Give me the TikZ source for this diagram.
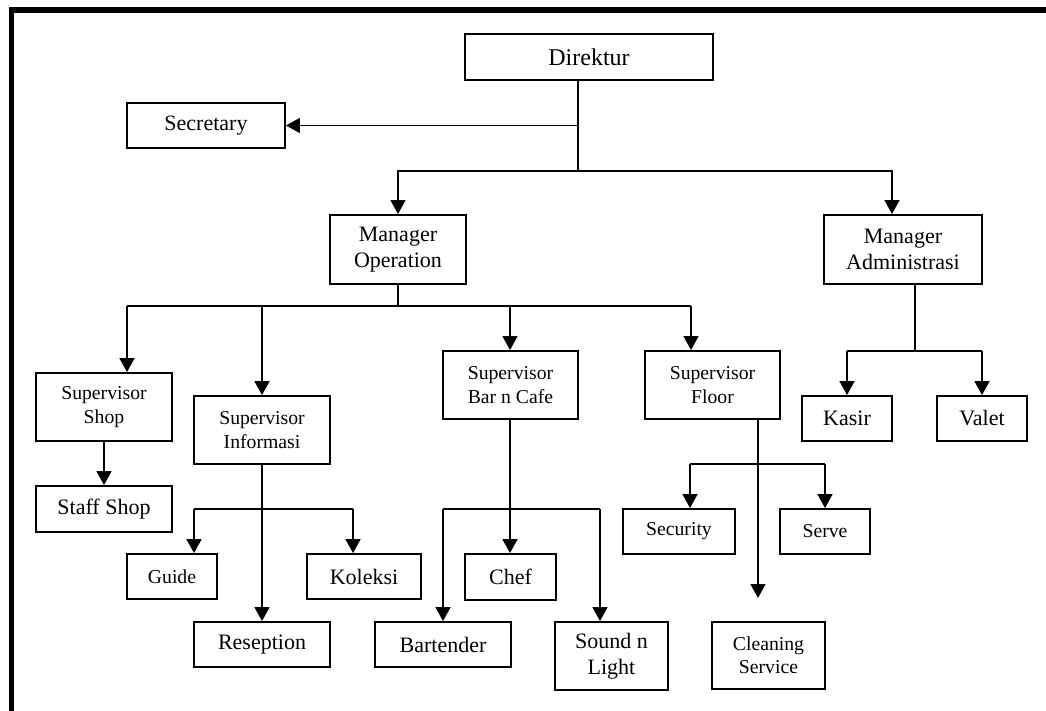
\documentclass[tikz,border=0pt]{standalone}
\usepackage{fontspec}
\setmainfont{Liberation Serif}
\usetikzlibrary{arrows.meta}
\begin{document}
\begin{tikzpicture}[x=1pt,y=-1pt,
  box/.style={draw,line width=1.9pt,inner sep=0pt,align=center,font=\fontsize{22}{25.5}\selectfont},
  sbox/.style={box,font=\fontsize{19.7}{23.5}\selectfont},
  conn/.style={line width=1.7pt},
  arr/.style={conn,-{Triangle[width=15pt,length=14pt]}}]
\useasboundingbox (0,0) rectangle (1046,711);
\fill[white] (0,0) rectangle (1046,711);
% frame
\draw[line width=5.5pt] (11.5,711) -- (11.5,10) -- (1046,10);
% nodes
\node[box,minimum width=248pt,minimum height=46pt,font=\fontsize{24}{27}\selectfont] (dir) at (589,57) {Direktur};
\node[box,minimum width=158pt,minimum height=45pt] (sec) at (206,125.5) {Secretary};
\node[box,minimum width=136pt,minimum height=69pt] (mop) at (398,249.5) {Manager\\Operation};
\node[box,minimum width=158pt,minimum height=69pt] (mad) at (903,249.5) {Manager\\Administrasi};
\node[sbox,minimum width=136pt,minimum height=68pt] (ssh) at (104,407) {Supervisor\\Shop};
\node[box,minimum width=136pt,minimum height=46pt] (stf) at (104,509) {Staff Shop};
\node[sbox,minimum width=136pt,minimum height=68pt] (sin) at (262,430) {Supervisor\\Informasi};
\node[sbox,minimum width=135pt,minimum height=68pt] (sbc) at (510.5,385) {Supervisor\\Bar n Cafe};
\node[sbox,minimum width=135pt,minimum height=68pt] (sfl) at (712.5,385) {Supervisor\\Floor};
\node[box,minimum width=90pt,minimum height=45pt] (kas) at (847,418.5) {Kasir};
\node[box,minimum width=90pt,minimum height=45pt] (val) at (982,418.5) {Valet};
\node[sbox,minimum width=90pt,minimum height=45pt] (gui) at (172,576.5) {Guide};
\node[box,minimum width=114pt,minimum height=45pt] (kol) at (364,576.5) {Koleksi};
\node[box,minimum width=136pt,minimum height=45pt] (res) at (262,644.5) {Reseption};
\node[box,minimum width=91pt,minimum height=46pt] (che) at (510.5,577) {Chef};
\node[box,minimum width=136pt,minimum height=45pt] (bar) at (443,644.5) {Bartender};
\node[box,minimum width=113pt,minimum height=68pt] (snl) at (611.5,656) {Sound n\\Light};
\node[sbox,minimum width=112pt,minimum height=45pt] (secu) at (679,531.5) {Security};
\node[sbox,minimum width=90pt,minimum height=45pt] (srv) at (825,531.5) {Serve};
\node[sbox,minimum width=113pt,minimum height=67pt] (cln) at (768.5,655.5) {Cleaning\\Service};
% junction coordinates
\coordinate (j0) at (578,125.5);
\coordinate (j1) at (578,171);
\coordinate (jma) at (892,171);
\coordinate (j2) at (398,306);
\coordinate (j2a) at (127,306);
\coordinate (j2d) at (691,306);
\coordinate (j3) at (262,509);
\coordinate (j3a) at (194,509);
\coordinate (j3b) at (353,509);
\coordinate (j4) at (510,509);
\coordinate (j4a) at (443,509);
\coordinate (j4b) at (600,509);
\coordinate (j5) at (758,464);
\coordinate (j5a) at (690,464);
\coordinate (j5b) at (825,464);
\coordinate (j5e) at (758,598);
\coordinate (j6) at (915,351);
\coordinate (j6a) at (847,351);
\coordinate (j6b) at (982,351);
% connectors
\draw[conn] (dir.south -| j1) -- (j1);
\draw[arr] (j0) -- (sec.east);
\draw[arr] (j1) -| (mop.north);
\draw[arr] (j1) -- (jma) -- (jma |- mad.north);
\draw[conn] (mop.south) -- (j2);
\draw[conn] (j2a) -- (j2d);
\draw[arr] (j2a) -- (j2a |- ssh.north);
\draw[arr] (j2 -| sin.north) -- (sin.north);
\draw[arr] (j2 -| j4) -- (j4 |- sbc.north);
\draw[arr] (j2d) -- (j2d |- sfl.north);
\draw[arr] (ssh.south) -- (stf.north);
\draw[arr] (sin.south) -- (res.north);
\draw[conn] (j3a) -- (j3b);
\draw[arr] (j3a) -- (j3a |- gui.north);
\draw[arr] (j3b) -- (j3b |- kol.north);
\draw[arr] (sbc.south -| j4) -- (j4 |- che.north);
\draw[conn] (j4a) -- (j4b);
\draw[arr] (j4a) -- (j4a |- bar.north);
\draw[arr] (j4b) -- (j4b |- snl.north);
\draw[arr] (sfl.south -| j5) -- (j5e);
\draw[conn] (j5a) -- (j5b);
\draw[arr] (j5a) -- (j5a |- secu.north);
\draw[arr] (j5b) -- (j5b |- srv.north);
\draw[conn] (mad.south -| j6) -- (j6);
\draw[conn] (j6a) -- (j6b);
\draw[arr] (j6a) -- (kas.north);
\draw[arr] (j6b) -- (val.north);
\end{tikzpicture}
\end{document}
